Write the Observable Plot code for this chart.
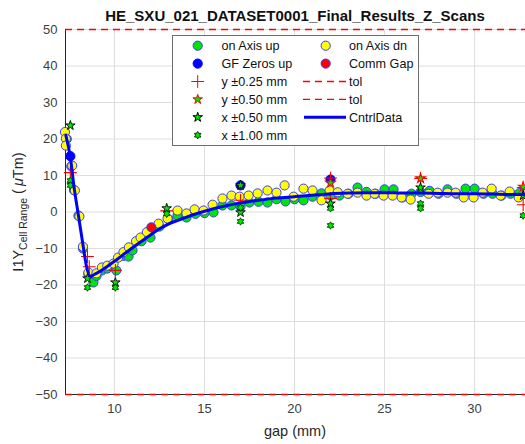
<!DOCTYPE html>
<html><head><meta charset="utf-8">
<script src="https://cdn.jsdelivr.net/npm/d3@7"></script>
<script src="https://cdn.jsdelivr.net/npm/@observablehq/plot@0.6"></script>
<style>body{margin:0;background:#fff;} svg{display:block;}</style>
</head><body><div id="chart"></div>
<script>
// ---- data ----
const upGap = [7.35,7.6,7.75,8.0,8.25,8.55,8.83,9.0,9.3,9.6,10.1,10.5,10.78,11.0,11.5,12.0,12.5,13.0,13.5,14.0,14.5,15.0,15.5,16.0,16.5,17.0,17.5,18.0,18.5,19.0,19.5,20.0,20.5,21.0,21.5,22.0,22.5,23.0,23.5,24.0,24.5,25.0,25.5,26.0,26.5,27.0,27.5,28.0,28.5,29.0,29.5,30.0,30.5,31.0,31.5,32.0,32.5];
const upVal = [20,12.5,6,-1,-10,-17,-19.3,-17.5,-16,-15.5,-16,-12,-12.2,-10.5,-8,-7,-4,-2,-1,-1.5,-0.5,-0.3,-0.1,1.8,1.8,1.5,2.6,2.8,2.6,3.5,2.9,3.5,3.2,4.2,5.1,4.5,4.5,5.0,6.7,5.5,5.0,6.2,6.2,4.0,5.0,5.5,5.8,5.0,6.2,5.0,6.4,6.4,5.0,5.0,4.5,5.0,5.2];
const dnGap = [7.25,7.3,7.3,7.65,7.8,8.05,8.25,8.55,9.0,9.3,9.6,9.95,10.2,10.5,10.8,11.2,11.45,11.8,12.45,12.95,13.5,14.0,14.45,14.95,15.45,16.0,16.5,16.95,17.45,17.95,18.5,19.0,19.45,19.95,20.5,21.0,21.5,21.95,22.4,22.95,23.5,24.0,24.45,24.95,25.45,25.95,26.45,27.45,27.95,28.5,28.95,29.4,29.95,30.45,30.95,31.45,31.95,32.45];
const dnVal = [21.9,20.1,18.2,12.7,5.9,-1.2,-9.5,-16.6,-16.8,-15.2,-14.7,-14.1,-12.5,-11,-9.7,-8,-7,-5.5,-3.2,-1.8,0.4,-0.4,0.7,0.4,2.0,3.7,4.5,4.2,4.5,5.1,5.9,5.3,7.3,4.2,6.4,5.9,3.2,5.9,5.4,5.0,5.3,4.5,5.0,4.5,4.5,4.0,3.4,5.0,5.3,5.3,5.3,4.0,4.0,5.3,6.4,4.5,5.6,4.0];
const gfGap = [7.55,17.0,22.0];
const gfVal = [15.3,7.3,8.9];
const commGap = [12.05];
const commVal = [-4.2];
const yTol25Gap = [7.55,8.5,8.6,10.05,12.9,17.0,22.0,22.0,27.0,32.7,32.7];
const yTol25Val = [10.8,-12.2,-15,-16,0.3,3.2,9.3,3.7,9.2,6.7,2.0];
const yTol50Gap = [22.0,27.0,32.7];
const yTol50Val = [8.0,9.2,6.9];
const xTol50Gap = [7.55,8.5,10.05,12.9,17.0,17.0,22.0,27.0,32.7];
const xTol50Val = [23.7,-18.2,-19.3,1.0,7.3,-0.1,2.3,6.7,4.5];
const xTol100Gap = [7.55,7.55,8.5,10.05,12.9,17.0,17.0,22.0,22.0,27.0,27.0,32.7];
const xTol100Val = [8.6,7.3,-20.7,-20.7,-0.5,1.2,-2.6,1.0,-3.7,2.3,1.0,-1.0];
const ctrlGap = [7.3,7.55,7.75,8.0,8.25,8.45,8.65,9.0,10.0,11.0,12.0,12.5,13.0,14.0,15.0,16.0,17.0,18.0,19.0,20.0,21.0,22.0,23.0,24.0,25.0,26.0,27.0,28.0,29.0,30.0,31.0,32.0,32.83];
const ctrlVal = [21,15,7,-1,-9,-15,-17.5,-16.8,-13.5,-9.8,-6.3,-4.6,-3.3,-1.4,0.2,1.5,2.5,3.2,3.8,4.2,4.6,5.0,5.2,5.3,5.3,5.2,5.2,5.1,5.0,5.0,4.9,4.8,4.8];
const tolVals = [50,-50];
const xTicks = [10,15,20,25,30];
const yTicks = [-50,-40,-30,-20,-10,0,10,20,30,40,50];
const title = "HE_SXU_021_DATASET0001_Final_Results_Z_Scans";
const legendCol1 = ["on Axis up","GF Zeros up","y ±0.25 mm","y ±0.50 mm","x ±0.50 mm","x ±1.00 mm"];
const legendCol2 = ["on Axis dn","Comm Gap","tol","tol","CntrlData"];

const zip = (g, v) => g.map((x, i) => ({gap: x, val: v[i]}));

const hexagram = {
  draw(ctx, size) {
    const R = Math.sqrt(size / Math.PI) * 1.15, r = R * 0.577;
    for (let i = 0; i < 12; i++) {
      const a = Math.PI / 6 * i - Math.PI / 2, rr = i % 2 ? r : R;
      const x = rr * Math.cos(a), y = rr * Math.sin(a);
      i ? ctx.lineTo(x, y) : ctx.moveTo(x, y);
    }
    ctx.closePath();
  }
};

const GREEN = "#00e600", YELLOW = "#ffff00", EDGE = "#3a3aff", RED = "#ff0000";
const font = "'Liberation Sans', Arial, sans-serif";

const plot = Plot.plot({
  width: 525, height: 444,
  marginLeft: 65, marginRight: 0, marginTop: 29, marginBottom: 50,
  style: {fontFamily: font, fontSize: "13px", color: "#404040", background: "#fff"},
  x: {domain: [7.28, 32.83], ticks: xTicks, label: null},
  y: {domain: [-50, 50], ticks: yTicks, label: null},
  marks: [
    Plot.gridX(xTicks, {stroke: "#dedede", strokeOpacity: 1}),
    Plot.gridY(yTicks, {stroke: "#dedede", strokeOpacity: 1}),
    Plot.frame({anchor: "left", stroke: "#262626"}),
    Plot.frame({anchor: "bottom", stroke: "#262626"}),
    Plot.ruleY(tolVals, {stroke: RED, strokeOpacity: 1, strokeWidth: 1.4, strokeDasharray: "7,5"}),
    Plot.dot(zip(upGap, upVal), {x: "gap", y: "val", r: 4.6, fill: GREEN, stroke: EDGE, strokeWidth: 1}),
    Plot.dot(zip(dnGap, dnVal), {x: "gap", y: "val", r: 4.6, fill: YELLOW, stroke: EDGE, strokeWidth: 1}),
    Plot.dot(zip(gfGap, gfVal), {x: "gap", y: "val", r: 4.6, fill: "#0000ff", stroke: "#0000ff", strokeWidth: 1}),
    Plot.dot(zip(commGap, commVal), {x: "gap", y: "val", r: 4.6, fill: RED, stroke: EDGE, strokeWidth: 1}),
    Plot.dot(zip(yTol25Gap, yTol25Val), {x: "gap", y: "val", r: 4.2, symbol: "plus", stroke: RED, strokeWidth: 1.1}),
    Plot.dot(zip(yTol50Gap, yTol50Val), {x: "gap", y: "val", r: 3.0, symbol: "star", fill: GREEN, stroke: RED, strokeWidth: 1.1}),
    Plot.dot(zip(xTol50Gap, xTol50Val), {x: "gap", y: "val", r: 3.0, symbol: "star", fill: GREEN, stroke: "#000000", strokeWidth: 0.9}),
    Plot.dot(zip(xTol100Gap, xTol100Val), {x: "gap", y: "val", r: 3.2, symbol: hexagram, fill: GREEN, stroke: "#003300", strokeWidth: 0.9}),
    Plot.line(zip(ctrlGap, ctrlVal), {x: "gap", y: "val", stroke: "#0000ff", strokeWidth: 3, curve: "monotone-x"}),
    Plot.axisX(xTicks, {tickSize: 0, tickPadding: 9, fontSize: 13}),
    Plot.axisY(yTicks, {tickSize: 0, tickPadding: 8, fontSize: 13})
  ]
});

document.getElementById("chart").appendChild(plot);
const svg = d3.select(plot);

// title
svg.append("text").attr("x", 295).attr("y", 20.5).attr("text-anchor", "middle")
  .attr("font-family", font).attr("font-weight", "bold").attr("font-size", 15).attr("fill", "#111")
  .text(title);

// x label
svg.append("text").attr("x", 295).attr("y", 436).attr("text-anchor", "middle")
  .attr("font-family", font).attr("font-size", 14.5).attr("fill", "#262626").text("gap (mm)");

// y label with subscript
const yl = svg.append("text").attr("transform", "translate(23,212) rotate(-90)").attr("text-anchor", "middle")
  .attr("font-family", font).attr("font-size", 14.5).attr("fill", "#262626");
yl.append("tspan").text("I1Y");
yl.append("tspan").attr("font-size", 10.5).attr("dy", 4).text("Cell Range");
yl.append("tspan").attr("dy", -4).text(" (");
yl.append("tspan").attr("font-style", "italic").attr("dx", 3).text("μ");
yl.append("tspan").text("Tm)");

// legend
const lg = svg.append("g").attr("font-family", font).attr("font-size", 12.6).attr("text-anchor", "start");
lg.append("rect").attr("x", 172.5).attr("y", 35.5).attr("width", 246).attr("height", 110)
  .attr("fill", "#ffffff").attr("stroke", "#6e6e6e").attr("stroke-width", 1);
const rowY = i => 45.7 + i * 17.9;
const sym = (type, r) => d3.symbol(type, r * r * Math.PI)();
const col1Sym = [
  {d: sym(d3.symbolCircle, 4.6), fill: GREEN, stroke: EDGE},
  {d: sym(d3.symbolCircle, 4.6), fill: "#0000ff", stroke: "#0000ff"},
  {d: sym(d3.symbolPlus, 4.2), fill: "none", stroke: RED},
  {d: sym(d3.symbolStar, 3.0), fill: GREEN, stroke: RED},
  {d: sym(d3.symbolStar, 3.0), fill: GREEN, stroke: "#000"},
  {d: sym(hexagram, 3.2), fill: GREEN, stroke: "#003300"}
];
legendCol1.forEach((t, i) => {
  const s = col1Sym[i];
  lg.append("path").attr("d", s.d).attr("transform", `translate(197.7,${rowY(i)})`)
    .attr("fill", s.fill).attr("stroke", s.stroke).attr("stroke-width", 1);
  lg.append("text").attr("x", 221.5).attr("y", rowY(i)).attr("dy", "0.36em").attr("fill", "#111").text(t);
});
legendCol2.forEach((t, i) => {
  const y = rowY(i);
  if (i === 0 || i === 1) {
    lg.append("path").attr("d", sym(d3.symbolCircle, 4.6)).attr("transform", `translate(325.7,${y})`)
      .attr("fill", i === 0 ? YELLOW : RED).attr("stroke", EDGE).attr("stroke-width", 1);
  } else if (i === 2 || i === 3) {
    lg.append("line").attr("x1", 303).attr("x2", 346).attr("y1", y).attr("y2", y)
      .attr("stroke", RED).attr("stroke-width", 1.3).attr("stroke-dasharray", "7,5");
  } else {
    lg.append("line").attr("x1", 304).attr("x2", 346).attr("y1", y).attr("y2", y)
      .attr("stroke", "#0000ff").attr("stroke-width", 3);
  }
  lg.append("text").attr("x", 349).attr("y", y).attr("dy", "0.36em").attr("fill", "#111").text(t);
});
</script>
</body></html>
